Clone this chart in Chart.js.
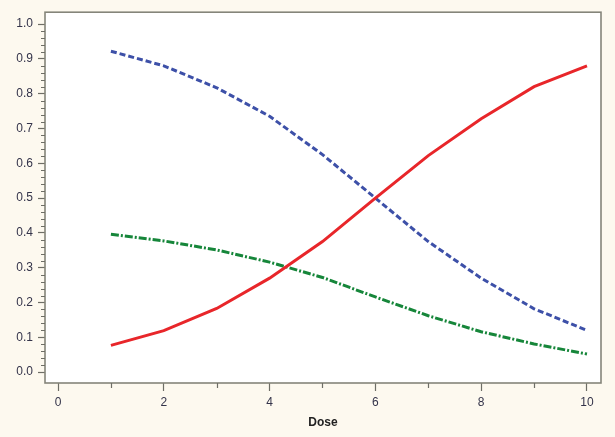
<!DOCTYPE html>
<html>
<head>
<meta charset="utf-8">
<script src="https://cdn.jsdelivr.net/npm/chart.js@4"></script>
<style>
html,body{margin:0;padding:0;background:#fdf9ef;}
#wrap{width:615px;height:437px;position:relative;}
</style>
</head>
<body>
<div id="wrap"><canvas id="c" width="615" height="437"></canvas></div>
<script>
const doses = [1, 2, 3, 4, 5, 6, 7, 8, 9, 10];
const redValues = [0.077, 0.119, 0.183, 0.270, 0.375, 0.500, 0.622, 0.728, 0.820, 0.880];
const blueValues = [0.922, 0.880, 0.817, 0.735, 0.625, 0.500, 0.375, 0.270, 0.182, 0.120];
const greenValues = [0.396, 0.377, 0.351, 0.316, 0.272, 0.216, 0.162, 0.116, 0.081, 0.052];
const xMajorTicks = [0, 2, 4, 6, 8, 10];
const xMinorTicks = [1, 3, 5, 7, 9];
const yMajorTicks = [0.0, 0.1, 0.2, 0.3, 0.4, 0.5, 0.6, 0.7, 0.8, 0.9, 1.0];
const yMinorTicks = [];
for (let i = 0; i < 50; i++) { if (i % 5 !== 0) yMinorTicks.push(+(i * 0.02).toFixed(2)); }
const xTitle = 'Dose';

const pts = vals => doses.map((d, i) => ({x: d, y: vals[i]}));

const frameColor = '#85857a';
const tickColor = '#6e6e66';
const labelColor = '#34344a';
const fontFamily = 'Liberation Sans, Arial, sans-serif';

const framePlugin = {
  id: 'frame',
  beforeDraw(chart) {
    const {ctx, chartArea: a} = chart;
    ctx.save();
    ctx.fillStyle = '#ffffff';
    ctx.fillRect(a.left, a.top, a.right - a.left, a.bottom - a.top);
    ctx.restore();
  },
  afterDraw(chart) {
    const {ctx, chartArea: a, scales} = chart;
    ctx.save();
    ctx.strokeStyle = frameColor;
    ctx.lineWidth = 1.6;
    ctx.strokeRect(a.left, a.top, a.right - a.left, a.bottom - a.top);
    ctx.strokeStyle = tickColor;
    ctx.lineWidth = 1.2;
    ctx.beginPath();
    yMinorTicks.forEach(v => {
      const y = Math.round(scales.y.getPixelForValue(v)) + 0.5;
      ctx.moveTo(a.left - 4, y); ctx.lineTo(a.left, y);
    });
    xMinorTicks.forEach(v => {
      const x = Math.round(scales.x.getPixelForValue(v)) + 0.5;
      ctx.moveTo(x, a.bottom); ctx.lineTo(x, a.bottom + 5);
    });
    ctx.stroke();
    ctx.restore();
  }
};

new Chart(document.getElementById('c'), {
  type: 'line',
  data: {
    datasets: [
      {data: pts(redValues), borderColor: '#e8262a', borderWidth: 3, pointRadius: 0, tension: 0, fill: false},
      {data: pts(blueValues), borderColor: '#3d50a8', borderWidth: 3, borderDash: [6, 3], pointRadius: 0, tension: 0, fill: false},
      {data: pts(greenValues), borderColor: '#16863a', borderWidth: 3, borderDash: [8, 2, 2, 2], pointRadius: 0, tension: 0, fill: false}
    ]
  },
  options: {
    responsive: false,
    animation: false,
    layout: {padding: {left: 0, top: 8, right: 14, bottom: 0}},
    plugins: {legend: {display: false}, tooltip: {enabled: false}},
    scales: {
      x: {
        type: 'linear',
        min: -0.246, max: 10.265,
        afterBuildTicks: s => { s.ticks = xMajorTicks.map(v => ({value: v})); },
        afterFit: s => { s.height = 54; },
        grid: {display: true, drawOnChartArea: false, drawTicks: true, tickLength: 8, tickColor: tickColor, tickWidth: 1.2},
        border: {display: false},
        ticks: {color: labelColor, font: {family: fontFamily, size: 12}, padding: 4, maxRotation: 0,
          callback: v => String(v)},
        title: {display: true, text: xTitle, color: '#222', font: {family: fontFamily, size: 12, weight: 'bold'}, padding: {top: 0, bottom: 7}}
      },
      y: {
        type: 'linear',
        min: -0.03125, max: 1.0341,
        afterBuildTicks: s => { s.ticks = yMajorTicks.map(v => ({value: v})); },
        afterFit: s => { s.width = 45; },
        grid: {display: true, drawOnChartArea: false, drawTicks: true, tickLength: 7, tickColor: tickColor, tickWidth: 1.2},
        border: {display: false},
        ticks: {color: labelColor, font: {family: fontFamily, size: 12}, padding: 5,
          callback: v => Number(v).toFixed(1)}
      }
    }
  },
  plugins: [framePlugin]
});
</script>
</body>
</html>
